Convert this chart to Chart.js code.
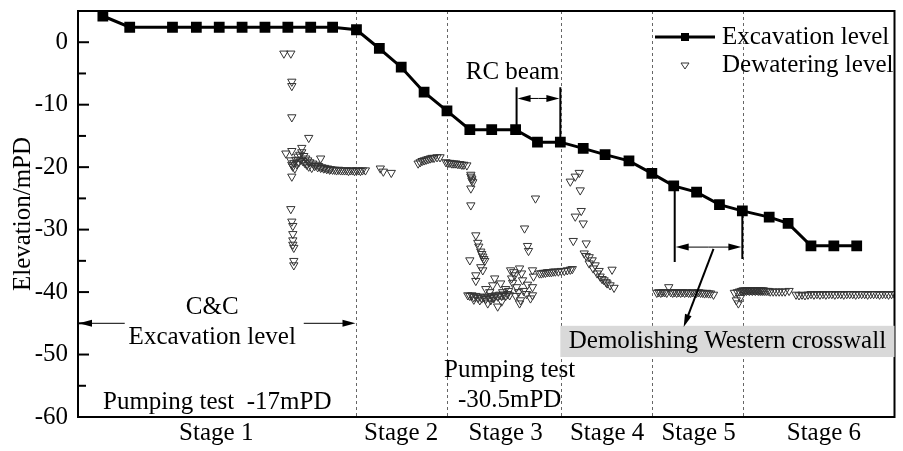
<!DOCTYPE html>
<html>
<head>
<meta charset="utf-8">
<script src="https://cdn.jsdelivr.net/npm/chart.js@4"></script>
<style>
  html, body { margin: 0; padding: 0; background: #fff; }
  #wrap { width: 903px; height: 451px; }
</style>
</head>
<body>
<div id="wrap"><canvas id="levels"></canvas></div>
<script>
const serif = '"Liberation Serif", "Times New Roman", serif';

// excavation level (mPD) along the construction timeline
const excavationX = [25, 52, 95, 119, 142, 165, 188, 211, 234, 256, 280, 303, 325, 348, 371, 394, 416, 440, 462, 485,
    508, 530, 554, 577, 599, 622, 645, 668, 695, 714, 737, 760, 783];
const excavationY = [4.2, 2.4, 2.4, 2.4, 2.4, 2.4, 2.4, 2.4, 2.4, 2.4, 2.0, -1, -4, -8, -11, -14, -14, -14, -16, -16,
    -17, -18, -19, -21, -23, -24, -26, -27, -28, -29, -32.6, -32.6, -32.6];

// dewatering readings [time, level]
const dewaterStage1 = [
    [207, -1.8], [214, -1.8], [215, -6.3], [215, -7.0], [215, -12.0], [232, -15.3], [209, -17.8], [215, -17.4],
    [225, -16.9], [244, -18.6], [215, -21.5], [214, -26.7], [215, -28.7], [216, -29.4], [216, -30.7], [216, -31.7],
    [216, -32.4], [217, -32.9], [217, -35.0], [217, -35.7],
    [214, -18.9], [215, -19.6], [216, -19.9], [217, -19.3], [218, -20.2], [219, -18.8], [220, -19.5], [221, -18.3],
    [222, -19.2], [223, -18.0], [224, -18.8], [225, -17.6], [226, -19.0], [227, -18.2], [228, -19.3], [229, -18.6],
    [230, -19.6], [231, -18.9], [232, -19.9], [233, -19.2], [235, -20.1], [236, -19.4], [238, -19.8], [239, -19.6],
    [241, -20.0], [242, -19.8], [244, -20.1], [245, -20.0], [247, -20.2], [248, -20.1], [250, -20.3], [251, -20.2],
    [253, -20.4], [254, -20.3], [256, -20.4], [258, -20.4], [260, -20.5], [262, -20.4], [264, -20.5], [266, -20.5],
    [268, -20.5], [270, -20.5], [272, -20.6], [274, -20.5], [276, -20.5], [278, -20.6], [280, -20.5], [282, -20.5],
    [284, -20.6], [286, -20.5], [289, -20.5]
];
const dewaterStage2 = [
    [304, -20.2], [307, -20.7], [315, -20.9],
    [342, -19.4], [344, -19.2], [346, -19.0], [348, -18.9], [350, -18.8], [352, -18.7], [354, -18.6], [356, -18.5],
    [358, -18.5], [361, -18.4], [364, -18.4],
    [370, -19.2], [372, -19.3], [374, -19.3], [376, -19.4], [378, -19.4], [380, -19.4], [382, -19.5], [384, -19.5],
    [386, -19.6], [388, -19.6], [391, -19.7]
];
const dewaterStage3 = [
    [395, -21.2], [395, -21.5], [396, -21.8], [396, -22.1], [397, -22.4], [395, -23.4], [395, -26.1], [460, -25.0],
    [449, -29.8], [452, -32.6], [453, -33.4], [400, -30.9], [402, -32.1], [403, -32.7], [405, -33.5], [406, -33.9],
    [407, -34.3], [408, -34.7], [409, -35.0], [394, -34.9], [405, -36.0], [407, -36.5], [400, -37.3], [400, -38.2],
    [419, -37.8], [417, -38.9], [425, -38.6], [412, -41.8], [422, -42.3], [435, -36.5], [444, -36.2], [439, -37.3],
    [447, -38.1], [445, -41.3], [444, -41.8], [457, -36.5], [458, -37.5], [457, -39.2], [457, -40.5], [455, -41.0],
    [430, -39.5], [433, -39.8], [427, -40.0], [410, -39.5], [414, -40.0], [437, -38.5], [441, -39.2], [448, -39.8],
    [451, -40.3], [440, -40.6], [443, -40.0], [436, -37.8], [438, -36.8], [446, -37.0], [452, -38.8], [415, -41.3],
    [418, -41.0], [426, -41.5], [404, -41.3], [398, -41.2],
    [392, -40.5], [394, -40.6], [396, -40.5], [398, -40.8], [400, -40.6], [402, -40.9], [404, -40.7], [406, -41.0],
    [408, -40.8], [410, -41.1], [412, -40.7], [414, -40.9], [416, -40.6], [418, -40.8], [420, -40.5], [422, -40.7],
    [424, -40.4], [426, -40.6], [428, -40.4], [430, -40.6], [432, -40.3], [434, -40.5],
    [464, -37.0], [466, -37.0], [468, -36.9], [470, -36.9], [472, -36.8], [474, -36.8], [476, -36.8], [478, -36.7],
    [480, -36.7], [483, -36.7], [486, -36.6], [489, -36.6], [492, -36.5], [495, -36.4], [497, -36.3]
];
const dewaterStage4 = [
    [495, -22.3], [500, -21.5], [504, -20.9], [505, -23.7], [506, -27.0], [500, -27.9], [508, -29.0], [498, -31.8],
    [511, -32.2], [509, -33.8], [511, -34.2], [514, -34.4], [517, -34.9], [514, -35.4], [520, -35.7], [518, -36.2],
    [522, -37.0], [524, -36.6], [525, -37.5], [527, -37.9], [529, -38.1], [531, -38.4], [532, -38.6], [537, -36.4],
    [535, -38.9], [539, -39.3]
];
const dewaterStage5 = [
    [582, -40.1], [584, -40.0], [586, -40.1], [588, -40.0], [590, -40.0], [592, -40.1], [594, -39.2], [596, -40.0],
    [598, -40.1], [600, -40.0], [602, -40.1], [604, -40.0], [606, -40.1], [608, -40.0], [610, -40.1], [612, -40.0],
    [614, -40.1], [616, -40.1], [618, -40.0], [620, -40.1], [622, -40.1], [624, -40.0], [626, -40.1], [628, -40.1],
    [630, -40.2], [632, -40.1], [634, -40.2], [636, -40.2], [639, -40.4],
    [660, -40.1], [662, -41.3], [664, -41.8], [666, -40.9], [663, -40.0], [665, -39.9], [667, -39.8], [668, -39.8],
    [669, -39.7], [670, -39.8], [671, -39.7], [672, -39.8], [673, -39.7], [674, -39.7], [675, -39.8], [676, -39.7],
    [677, -39.7], [678, -39.8], [679, -39.7], [680, -39.7], [681, -39.8], [682, -39.7], [683, -39.7], [684, -39.8],
    [685, -39.7], [686, -39.8], [687, -39.7], [688, -39.8], [689, -39.7], [690, -39.8], [692, -39.8], [694, -39.8],
    [696, -39.9], [699, -39.9], [702, -39.9], [705, -39.9], [708, -39.9], [711, -39.9], [715, -39.8]
];
const dewaterStage6 = [
    [722, -40.4], [725, -40.5], [728, -40.4], [731, -40.5], [734, -40.4], [737, -40.3], [740, -40.4], [743, -40.3],
    [746, -40.4], [749, -40.3], [752, -40.4], [755, -40.3], [758, -40.3], [761, -40.4], [764, -40.3], [767, -40.3],
    [770, -40.4], [773, -40.3], [776, -40.3], [779, -40.3], [782, -40.4], [785, -40.3], [788, -40.3], [791, -40.3],
    [794, -40.4], [797, -40.3], [800, -40.3], [803, -40.3], [806, -40.4], [809, -40.3], [812, -40.3], [815, -40.4],
    [818, -40.3], [821, -40.3]
];

const stageLabels = ['Stage 1', 'Stage 2', 'Stage 3', 'Stage 4', 'Stage 5', 'Stage 6'];
const stageCenters = [139, 325, 430, 532, 624, 750];
const stageBounds = [280, 371, 486, 577, 669];
const yTicks = [-60, -50, -40, -30, -20, -10, 0];
const yMinorTicks = [-55, -45, -35, -25, -15, -5];

const dewatering = [].concat(dewaterStage1, dewaterStage2, dewaterStage3, dewaterStage4, dewaterStage5, dewaterStage6)
    .map(([x, y]) => ({ x, y }));

function drawArrow(ctx, x1, y1, x2, y2) {
    const a = Math.atan2(y2 - y1, x2 - x1);
    const len = 13, half = 3.5;
    ctx.beginPath();
    ctx.moveTo(x1, y1);
    ctx.lineTo(x2 - len * Math.cos(a) * 0.8, y2 - len * Math.sin(a) * 0.8);
    ctx.stroke();
    ctx.beginPath();
    ctx.moveTo(x2, y2);
    ctx.lineTo(x2 - len * Math.cos(a) + half * Math.sin(a), y2 - len * Math.sin(a) - half * Math.cos(a));
    ctx.lineTo(x2 - len * Math.cos(a) - half * Math.sin(a), y2 - len * Math.sin(a) + half * Math.cos(a));
    ctx.closePath();
    ctx.fill();
}

function drawText(ctx, text, x, y, align) {
    ctx.textAlign = align || 'center';
    ctx.textBaseline = 'middle';
    ctx.fillText(text, x, y);
}

// the axes must not reserve room for half-labels at the ends
function noEdgePadding(s) {
    s.paddingTop = 0;
    s.paddingBottom = 0;
    s.paddingLeft = 0;
    s.paddingRight = 0;
}

const stageLines = {
    id: 'stageLines',
    beforeDatasetsDraw(chart) {
        const { ctx, chartArea, scales } = chart;
        ctx.save();
        ctx.strokeStyle = '#666';
        ctx.lineWidth = 1;
        ctx.setLineDash([3, 3]);
        stageBounds.forEach(v => {
            const px = Math.round(scales.x.getPixelForValue(v)) + 0.5;
            ctx.beginPath();
            ctx.moveTo(px, chartArea.top);
            ctx.lineTo(px, chartArea.bottom);
            ctx.stroke();
        });
        ctx.restore();
    }
};

const frameAndNotes = {
    id: 'frameAndNotes',
    afterDraw(chart) {
        const { ctx, chartArea, scales } = chart;
        const X = v => scales.x.getPixelForValue(v);
        const Y = v => scales.y.getPixelForValue(v);
        ctx.save();

        // frame + inward ticks
        ctx.strokeStyle = '#000';
        ctx.lineWidth = 2;
        ctx.strokeRect(chartArea.left, chartArea.top, chartArea.right - chartArea.left, chartArea.bottom - chartArea.top);
        yTicks.forEach(v => {
            ctx.beginPath();
            ctx.moveTo(chartArea.left, Y(v));
            ctx.lineTo(chartArea.left + 11, Y(v));
            ctx.stroke();
        });
        yMinorTicks.forEach(v => {
            ctx.beginPath();
            ctx.moveTo(chartArea.left, Y(v));
            ctx.lineTo(chartArea.left + 8, Y(v));
            ctx.stroke();
        });

        ctx.fillStyle = '#000';
        ctx.font = '25px ' + serif;

        // C&C excavation span
        ctx.lineWidth = 1;
        drawArrow(ctx, X(47), Y(-45), X(1), Y(-45));
        drawArrow(ctx, X(227), Y(-45), X(279), Y(-45));
        drawText(ctx, 'C&C', X(135), Y(-42.4));
        drawText(ctx, 'Excavation level', X(135), Y(-47.2));
        drawText(ctx, 'Pumping test  -17mPD', X(140), Y(-57.6));
        drawText(ctx, 'Pumping test', X(434), Y(-52.6));
        drawText(ctx, '-30.5mPD', X(434), Y(-57.3));

        // RC beam bracket
        drawText(ctx, 'RC beam', X(437), Y(-4.8));
        ctx.lineWidth = 2;
        ctx.beginPath();
        ctx.moveTo(X(441), Y(-7.2)); ctx.lineTo(X(441), Y(-14));
        ctx.moveTo(X(485), Y(-7.2)); ctx.lineTo(X(485), Y(-16));
        ctx.stroke();
        ctx.lineWidth = 1;
        drawArrow(ctx, X(463), Y(-9), X(442), Y(-9));
        drawArrow(ctx, X(463), Y(-9), X(484), Y(-9));

        // western crosswall demolition
        ctx.fillStyle = '#d9d9d9';
        ctx.fillRect(X(485), Y(-45.4), X(821) - X(485), Y(-50.4) - Y(-45.4));
        ctx.fillStyle = '#000';
        drawText(ctx, 'Demolishing Western crosswall', X(653), Y(-47.9));
        ctx.lineWidth = 2;
        ctx.beginPath();
        ctx.moveTo(X(600), Y(-23)); ctx.lineTo(X(600), Y(-35.2));
        ctx.moveTo(X(668), Y(-27)); ctx.lineTo(X(668), Y(-34.7));
        ctx.stroke();
        ctx.lineWidth = 1;
        drawArrow(ctx, X(634), Y(-32.8), X(601), Y(-32.8));
        drawArrow(ctx, X(634), Y(-32.8), X(667), Y(-32.8));
        ctx.lineWidth = 2;
        drawArrow(ctx, X(639), Y(-33.1), X(609), Y(-45.6));

        // legend
        const lx = chartArea.left + 577, ly1 = chartArea.top + 26, ly2 = chartArea.top + 54;
        ctx.strokeStyle = '#000';
        ctx.lineWidth = 3;
        ctx.beginPath();
        ctx.moveTo(lx, ly1); ctx.lineTo(lx + 60, ly1);
        ctx.stroke();
        ctx.fillRect(lx + 26, ly1 - 4, 8, 8);
        ctx.lineWidth = 1;
        ctx.strokeStyle = '#333';
        ctx.beginPath();
        ctx.moveTo(lx + 26, ly2 - 2); ctx.lineTo(lx + 34, ly2 - 2); ctx.lineTo(lx + 30, ly2 + 4);
        ctx.closePath();
        ctx.stroke();
        ctx.fillStyle = '#000';
        drawText(ctx, 'Excavation level', lx + 67, ly1, 'left');
        drawText(ctx, 'Dewatering level', lx + 67, ly2, 'left');

        ctx.restore();
    }
};

Chart.defaults.font.family = serif;
Chart.defaults.color = '#000';

new Chart(document.getElementById('levels'), {
    type: 'scatter',
    data: {
        datasets: [
            {
                label: 'Excavation level',
                type: 'line',
                data: excavationX.map((x, i) => ({ x, y: excavationY[i] })),
                borderColor: '#000',
                backgroundColor: '#000',
                borderWidth: 3,
                pointStyle: 'rect',
                pointRadius: 5.5,
                tension: 0
            },
            {
                label: 'Dewatering level',
                data: dewatering,
                pointStyle: 'triangle',
                rotation: 180,
                pointRadius: 4.8,
                borderColor: '#333',
                backgroundColor: 'rgba(0,0,0,0)',
                borderWidth: 1
            }
        ]
    },
    options: {
        animation: false,
        responsive: true,
        maintainAspectRatio: false,
        layout: { padding: { top: 11, right: 4, left: 0, bottom: 0 } },
        plugins: { legend: { display: false }, tooltip: { enabled: false } },
        scales: {
            x: {
                type: 'linear',
                min: 0,
                max: 821,
                border: { display: false },
                grid: { display: false, drawTicks: false },
                afterBuildTicks: s => { s.ticks = stageCenters.map(v => ({ value: v })); },
                afterFit: s => { s.height = 34; noEdgePadding(s); },
                ticks: {
                    autoSkip: false,
                    maxRotation: 0,
                    padding: 1,
                    font: { size: 25 },
                    callback: (v, i) => stageLabels[i]
                }
            },
            y: {
                min: -60,
                max: 5,
                border: { display: false },
                grid: { display: false, drawTicks: false },
                afterBuildTicks: s => { s.ticks = yTicks.map(v => ({ value: v })); },
                afterFit: s => { s.width = 78; noEdgePadding(s); },
                title: {
                    display: true,
                    text: 'Elevation/mPD',
                    font: { size: 25 },
                    padding: { top: 8, bottom: 0 }
                },
                ticks: {
                    padding: 10,
                    font: { size: 25 },
                    callback: v => String(v)
                }
            }
        }
    },
    plugins: [stageLines, frameAndNotes]
});
</script>
</body>
</html>
